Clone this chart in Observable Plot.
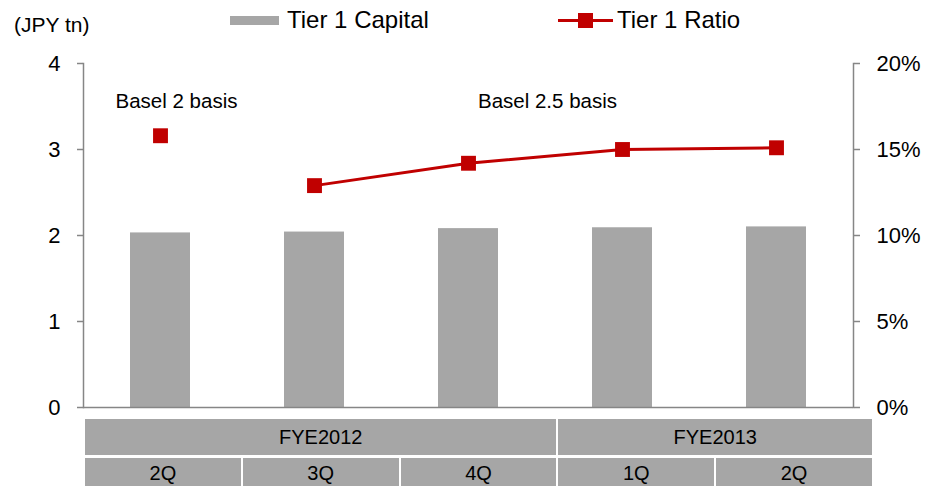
<!DOCTYPE html>
<html>
<head>
<meta charset="utf-8">
<script src="https://cdn.jsdelivr.net/npm/d3@7"></script>
<script src="https://cdn.jsdelivr.net/npm/@observablehq/plot@0.6"></script>
<style>
  html, body { margin: 0; padding: 0; background: #fff; }
  body { font-family: "Liberation Sans", Arial, sans-serif; color: #000; }
  #wrap { position: relative; width: 928px; height: 486px; overflow: hidden; }
  #chart { position: absolute; left: 0; top: 0; }
  .abs { position: absolute; white-space: nowrap; }
  #table {
    position: absolute; left: 85px; top: 419px; width: 787px;
    display: grid; grid-template-columns: repeat(5, 1fr);
    grid-template-rows: 36px 30px; column-gap: 2px; row-gap: 3px;
  }
  #table div {
    background: #a6a6a6; display: flex; align-items: center; justify-content: center;
    font-size: 20px; color: #000;
  }
</style>
</head>
<body>
<div id="wrap">
  <div id="chart"></div>
  <div class="abs" style="left:14px; top:12px; font-size:21px; line-height:26px;">(JPY tn)</div>
  <div class="abs" style="left:230px; top:16px; width:49px; height:9px; background:#a6a6a6;"></div>
  <div class="abs" style="left:287px; top:5px; font-size:24px; line-height:30px;">Tier 1 Capital</div>
  <div class="abs" style="left:558px; top:19px; width:55px; height:3px; background:#c00000;"></div>
  <div class="abs" style="left:578px; top:13px; width:15px; height:15px; background:#c00000;"></div>
  <div class="abs" style="left:617px; top:5px; font-size:24px; line-height:30px;">Tier 1 Ratio</div>
  <div id="table"></div>
</div>
<script>
// ---- data ----
const fiscalYears = ["FYE2012", "FYE2012", "FYE2012", "FYE2013", "FYE2013"];
const quarters = ["2Q", "3Q", "4Q", "1Q", "2Q"];
const tier1Capital = [2.03, 2.04, 2.08, 2.09, 2.10];   // JPY tn
const tier1Ratio = [15.8, 12.9, 14.2, 15.0, 15.1];     // %
const basis = ["Basel 2", "Basel 2.5", "Basel 2.5", "Basel 2.5", "Basel 2.5"];
const leftTicks = [0, 1, 2, 3, 4];
const rightTickLabels = ["0%", "5%", "10%", "15%", "20%"];
const annotationTexts = ["Basel 2 basis", "Basel 2.5 basis"];

const ratioMax = 20, capMax = 4;
const keys = quarters.map((q, i) => fiscalYears[i] + " " + q);
const data = keys.map((k, i) => ({
  key: k, capital: tier1Capital[i], ratio: tier1Ratio[i], basis: basis[i]
}));
const toLeft = r => r * capMax / ratioMax;
const axisGrey = "#868686";

const chart = Plot.plot({
  width: 928,
  height: 432,
  marginTop: 63,
  marginBottom: 25,
  marginLeft: 83,
  marginRight: 75,
  style: {fontFamily: "'Liberation Sans', Arial, sans-serif", fontSize: "22px", color: "#000", background: "transparent"},
  x: {domain: keys, paddingInner: 0.61, paddingOuter: 0.305, axis: null},
  y: {domain: [0, capMax], axis: null},
  marks: [
    Plot.barY(data, {x: "key", y: "capital", fill: "#a6a6a6"}),
    Plot.frame({anchor: "left", stroke: axisGrey, strokeWidth: 1.5}),
    Plot.frame({anchor: "right", stroke: axisGrey, strokeWidth: 1.5}),
    Plot.ruleY([0], {stroke: axisGrey, strokeWidth: 1.5}),
    Plot.axisY({anchor: "left", ticks: leftTicks, tickSize: 6, tickPadding: 17, stroke: axisGrey, strokeWidth: 1.5, fill: "#000", label: null, fontSize: 22,
      tickFormat: d => String(d)}),
    Plot.axisY({anchor: "right", ticks: leftTicks, tickSize: 6, tickPadding: 17, stroke: axisGrey, strokeWidth: 1.5, fill: "#000", label: null, fontSize: 22,
      tickFormat: d => rightTickLabels[leftTicks.indexOf(d)]}),
    Plot.line(data, {x: "key", y: d => toLeft(d.ratio), z: "basis", stroke: "#c00000", strokeWidth: 3}),
    Plot.dot(data, {x: "key", y: d => toLeft(d.ratio), symbol: "square", r: 8.4, fill: "#c00000", stroke: "none"}),
    Plot.text([annotationTexts[0]], {x: () => keys[0], y: () => 3.56, text: d => d, dx: 16, fontSize: 20.5, fill: "#000"}),
    Plot.text([annotationTexts[1]], {x: () => keys[2], y: () => 3.56, text: d => d, dx: 79, fontSize: 20.5, fill: "#000"})
  ]
});
document.getElementById("chart").appendChild(chart);

// category table below the chart
const table = document.getElementById("table");
const groups = [];
fiscalYears.forEach(fy => {
  const g = groups[groups.length - 1];
  if (g && g.name === fy) g.span++; else groups.push({name: fy, span: 1});
});
groups.forEach(g => {
  const d = document.createElement("div");
  d.textContent = g.name;
  d.style.gridColumn = "span " + g.span;
  table.appendChild(d);
});
quarters.forEach(q => {
  const d = document.createElement("div");
  d.textContent = q;
  table.appendChild(d);
});
</script>
</body>
</html>
